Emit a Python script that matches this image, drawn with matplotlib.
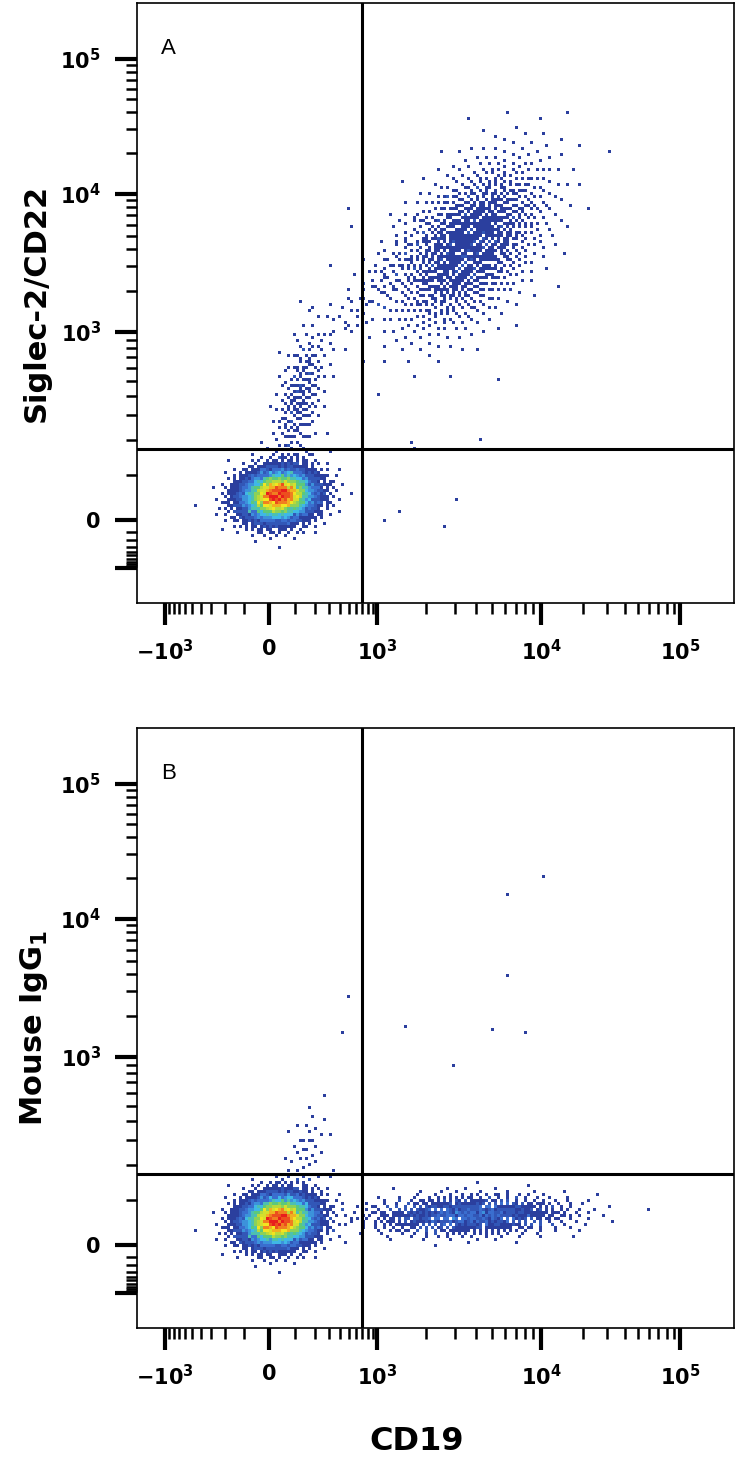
import numpy as np
import matplotlib
matplotlib.use("Agg")
import matplotlib.pyplot as plt
from matplotlib.colors import LinearSegmentedColormap

# ---- populations: (n, centre x, centre y, spread x [px], spread y [px], corr)
POP_A = [
    (3000, 35, 52, 20, 14, 0.1),       # negative cells
    (200, 121, 385, 14, 38, 0.5),      # low CD22 tail
    (70, 1000, 2200, 35, 40, 0.9),     # bridge
    (1100, 3670, 4280, 40, 45, 0.5),   # CD19+ CD22+
]
POP_B = [
    (3000, 35, 52, 20, 14, 0.1),
    (40, 150, 250, 12, 25, 0.4),
    (900, 3670, 64, 50, 10, 0.1),      # CD19+ isotype
]
STRAY_A_X = [1600, 1700, 3000, 4200, 1100, 2600, 1400, 500, 300]
STRAY_A_Y = [190, 170, 40, 200, -10, -60, 20, 8000, 3000]
STRAY_B_X = [10500, 6200, 6200, 1500, 5000, 8000, 2900, 500, 440]
STRAY_B_Y = [21000, 15000, 4000, 1700, 1600, 1500, 900, 2800, 1500]

GATE_X = 693
GATE_Y = 172

X_TICKS = [-1000, 0, 1000, 10000, 100000]
X_LABELS = [r"$\mathbf{-10^3}$", r"$\mathbf{0}$", r"$\mathbf{10^3}$",
            r"$\mathbf{10^4}$", r"$\mathbf{10^5}$"]
Y_TICKS = [-1000, 0, 1000, 10000, 100000]
Y_LABELS = ["", r"$\mathbf{0}$", r"$\mathbf{10^3}$", r"$\mathbf{10^4}$",
            r"$\mathbf{10^5}$"]

LN10 = np.log(10)


def g(v):
    return np.arcsinh(np.asarray(v, dtype=float) / 150) / LN10


def ginv(t):
    return 150 * np.sinh(np.asarray(t) * LN10)


ANCH_V = [-1e4, -1e3, 0, 1e3, 1e4, 1e5, 1e6]
G_ANCH = g(ANCH_V)
X_PX = np.array([73, 165, 269, 377, 541, 680, 819], float)
Y_PX = 603 - np.array([610, 568, 520, 332, 194, 58.6, -77])


def make_scale(px):
    fwd = lambda v: np.interp(g(v), G_ANCH, px)
    inv = lambda p: ginv(np.interp(p, px, G_ANCH))
    return fwd, inv


xf, xi = make_scale(X_PX)
yf, yi = make_scale(Y_PX)


def blob(n, cx, cy, sx, sy, rho):
    # deterministic sunflower layout of a 2-d normal cloud, spreads in pixels
    i = np.arange(n)
    u = (i + 0.5) / n
    r = np.sqrt(-2 * np.log(1 - u))
    th = i * 2.399963
    zx = r * np.cos(th)
    zy = rho * zx + np.sqrt(1 - rho ** 2) * r * np.sin(th)
    return xi(xf(cx) + sx * zx), yi(yf(cy) + sy * zy)


cmap = LinearSegmentedColormap.from_list(
    "flow", ["#2b3f9e", "#3a6fd0", "#3fb8e6", "#5cc87a", "#b8d93a",
             "#f2e520", "#f08020", "#e81d1d"])

fig = plt.figure(figsize=(7.38, 14.70), dpi=100)
W, H = 738, 1470


def panel(top, pops, sx_, sy_, letter, ylabel):
    ax = fig.add_axes([137 / W, 1 - (top + 600) / H, 597 / W, 600 / H])
    ax.set_xscale("function", functions=(xf, xi))
    ax.set_yscale("function", functions=(yf, yi))
    xs, ys = [], []
    for p in pops:
        bx, by = blob(*p)
        xs.append(bx)
        ys.append(by)
    xs.append(np.array(sx_, float))
    ys.append(np.array(sy_, float))
    x = np.concatenate(xs)
    y = np.concatenate(ys)
    xe = xi(np.arange(137, 736, 3.0))
    ye = yi(np.arange(0, 601, 3.0))
    ax.hist2d(x, y, bins=[xe, ye], cmin=1, cmap=cmap, vmax=15)
    ax.set_xlim(xi(137), xi(734))
    ax.set_ylim(yi(0), yi(600))
    ax.axvline(GATE_X, color="black", lw=2.2)
    ax.axhline(GATE_Y, color="black", lw=2.2)
    ax.text(0.04, 0.915, letter, transform=ax.transAxes, fontsize=16,
            family="Liberation Sans")
    ax.set_xticks(X_TICKS, X_LABELS)
    ax.set_yticks(Y_TICKS, Y_LABELS)
    minors = list(range(-900, 1000, 100))
    minors += [m * d for d in (1e3, 1e4) for m in range(2, 10)]
    ax.set_xticks([v for v in minors if xi(137) < v], minor=True)
    ax.set_yticks([v for v in minors if yi(0) < v], minor=True)
    ax.tick_params(which="major", direction="out", length=16, width=3,
                   labelsize=15, pad=10)
    ax.tick_params(which="minor", direction="out", length=8, width=1.8)
    for s in ax.spines.values():
        s.set_linewidth(1.2)
    ax.set_ylabel(ylabel, fontsize=22, fontweight="bold")
    ax.yaxis.set_label_coords(-0.145, 0.5)
    return ax


panel(3, POP_A, STRAY_A_X, STRAY_A_Y, "A", "Siglec-2/CD22")
panel(728, POP_B, STRAY_B_X, STRAY_B_Y, "B", r"Mouse IgG$_\mathbf{1}$")
fig.text(417 / W, 1 - 1442 / H, "CD19", fontsize=23, fontweight="bold",
         ha="center", va="center")
fig.savefig("out.png", dpi=100)
